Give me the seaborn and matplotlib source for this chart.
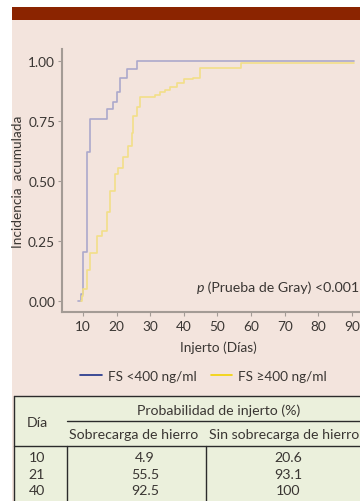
import pandas as pd
import seaborn as sns
import matplotlib.pyplot as plt
from matplotlib.patches import Rectangle
from matplotlib.lines import Line2D

# Data (day, cumulative incidence)
dias_bajo = [8.6, 9.4, 10.0, 11.2, 12.1, 17.1, 18.9, 20.1, 21.0, 23.1, 26.1, 90.6]
inc_bajo = [0.0, 0.03, 0.206, 0.62, 0.76, 0.80, 0.83, 0.87, 0.931, 0.965, 1.0, 1.0]
dias_alto = [9.4, 9.8, 10.0, 11.2, 12.1, 14.2, 15.7, 17.1, 18.0, 19.5, 20.4, 21.9,
             23.4, 24.6, 24.9, 26.1, 27.0, 31.4, 32.9, 34.4, 35.9, 38.0, 40.0,
             42.7, 44.8, 57.0, 90.6]
inc_alto = [0.0, 0.02, 0.049, 0.13, 0.20, 0.27, 0.29, 0.37, 0.46, 0.53, 0.555, 0.60,
            0.645, 0.70, 0.77, 0.81, 0.85, 0.86, 0.87, 0.88, 0.89, 0.91, 0.925,
            0.93, 0.97, 0.99, 0.99]
grupos = ['FS <400 ng/ml', 'FS \u2265400 ng/ml']
xticks = [10, 20, 30, 40, 50, 60, 70, 80, 90]
yticks = [0.0, 0.25, 0.5, 0.75, 1.0]

# table
tabla_dias = ['10', '21', '40']
tabla_sobrecarga = ['4.9', '55.5', '92.5']
tabla_sin = ['20.6', '93.1', '100']

W, H = 360, 502
def fx(px):
    return px / W
def fy(py):
    return 1 - py / H

sns.set_theme(style='white')
plt.rcParams['font.family'] = ['Lato', 'DejaVu Sans']
txt = '#3a3633'
gris = '#a39b95'
fs = 9.8

fig = plt.figure(figsize=(3.6, 5.02), dpi=100, facecolor='white')

# backgrounds
fig.add_artist(Rectangle((fx(12), 0), fx(360) - fx(12), fy(21), transform=fig.transFigure,
                         facecolor='#f3e4dd', edgecolor='none', zorder=0))
fig.add_artist(Rectangle((fx(12), fy(21)), 1, fy(8) - fy(21), transform=fig.transFigure,
                         facecolor='#8b2400', edgecolor='none', zorder=0))
fig.add_artist(Rectangle((fx(14), 0), 1, fy(397), transform=fig.transFigure,
                         facecolor='#ebf0dc', edgecolor='none', zorder=0))

ax = fig.add_axes([fx(62), fy(313), 1 - fx(62), fy(50) - fy(313)])
ax.patch.set_alpha(0)

df = pd.concat([
    pd.DataFrame({'dia': dias_bajo, 'inc': inc_bajo, 'grupo': grupos[0]}),
    pd.DataFrame({'dia': dias_alto, 'inc': inc_alto, 'grupo': grupos[1]}),
])
sns.lineplot(data=df, x='dia', y='inc', hue='grupo', estimator=None, sort=False,
             drawstyle='steps-post', palette=['#aca8cc', '#f2df88'], linewidth=1.2,
             legend=False, ax=ax)

ax.set_xlim(3.75, 92.4)
ax.set_ylim(-0.046, 1.05)
ax.set_xticks(xticks)
ax.set_yticks(yticks)
ax.set_yticklabels(['%.2f' % v for v in yticks])
ax.set_xlabel('')
ax.set_ylabel('')
for s in ['top', 'right']:
    ax.spines[s].set_visible(False)
for s in ['left', 'bottom']:
    ax.spines[s].set_color(gris)
    ax.spines[s].set_linewidth(1.5)
ax.tick_params(axis='both', length=3, width=0.8, color=gris, labelsize=fs, labelcolor=txt,
               left=True, bottom=True)
ax.tick_params(axis='y', pad=2)
ax.tick_params(axis='x', pad=3)

fig.text(fx(18), fy(182), 'Incidencia  acumulada', rotation=90, ha='center', va='center',
         fontsize=fs, color=txt)
fig.text(fx(218), fy(348), 'Injerto (D\u00edas)', ha='center', va='center', fontsize=fs, color=txt)

# p value annotation
t = fig.text(fx(359), fy(288), ' (Prueba de Gray) <0.001', ha='right', va='center',
             fontsize=10.2, color=txt)
fig.canvas.draw()
bb = t.get_window_extent().transformed(fig.transFigure.inverted())
fig.text(bb.x0, fy(288), 'p', ha='right', va='center', fontsize=10.2, color=txt, style='italic')

# legend
handles = [Line2D([], [], color='#1d3088', lw=1.2), Line2D([], [], color='#f2d200', lw=1.2)]
fig.legend(handles, grupos, loc='center left', bbox_to_anchor=(fx(68), fy(377)), ncol=2,
           frameon=False, fontsize=fs, handlelength=1.6, handletextpad=0.45, columnspacing=1.0,
           labelcolor=txt)

# table lines
k = '#2b2b2b'
def hline(y, x0, x1):
    fig.add_artist(Line2D([fx(x0), fx(x1)], [fy(y), fy(y)], transform=fig.transFigure, color=k, lw=1))
def vline(x, y0, y1):
    fig.add_artist(Line2D([fx(x), fx(x)], [fy(y0), fy(y1)], transform=fig.transFigure, color=k, lw=1))
hline(397, 14, 360)
vline(14, 397, 502)
hline(422, 67, 360)
hline(447, 14, 360)
vline(67, 447, 502)
vline(206, 447, 502)

tf = 10.2
fig.text(fx(37), fy(423), 'D\u00eda', ha='center', va='center', fontsize=tf, color=txt)
fig.text(fx(219), fy(411), 'Probabilidad de injerto (%)', ha='center', va='center', fontsize=tf, color=txt)
fig.text(fx(134), fy(435), 'Sobrecarga de hierro', ha='center', va='center', fontsize=tf, color=txt)
fig.text(fx(284), fy(435), 'Sin sobrecarga de hierro', ha='center', va='center', fontsize=tf, color=txt)
for i, yy in enumerate([458, 475, 491]):
    fig.text(fx(37), fy(yy), tabla_dias[i], ha='center', va='center', fontsize=tf, color=txt)
    fig.text(fx(145), fy(yy), tabla_sobrecarga[i], ha='center', va='center', fontsize=tf, color=txt)
    fig.text(fx(288), fy(yy), tabla_sin[i], ha='center', va='center', fontsize=tf, color=txt)

fig.savefig('out.png', dpi=100, facecolor='white')
